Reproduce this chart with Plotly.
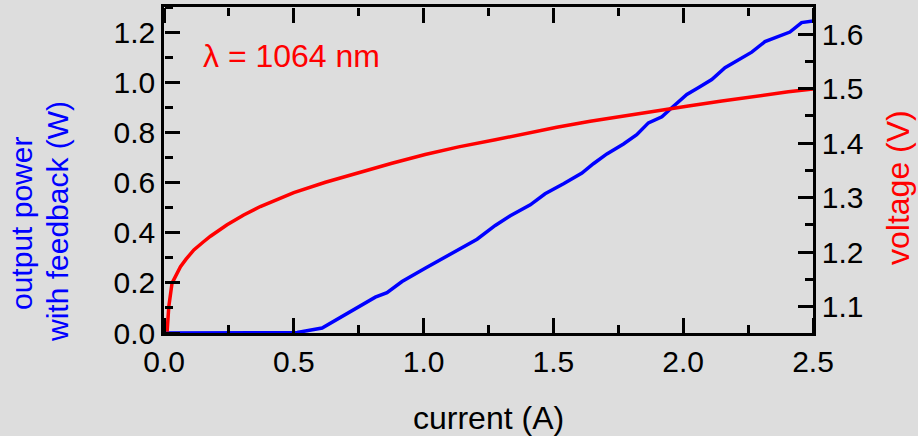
import plotly.graph_objects as go

# current (A) and voltage (V) -- red curve, right axis
current_v = [0.012, 0.0185, 0.031, 0.045, 0.0635, 0.085, 0.115, 0.15, 0.179, 0.243,
             0.307, 0.371, 0.5, 0.622, 0.75, 0.878, 1.006, 1.135, 1.276, 1.385,
             1.513, 1.642, 1.77, 1.911, 2.02, 2.149, 2.277, 2.405, 2.5]
voltage = [1.054, 1.100, 1.143, 1.156, 1.173, 1.187, 1.204, 1.218, 1.229, 1.250,
           1.268, 1.2835, 1.309, 1.328, 1.346, 1.363, 1.379, 1.393, 1.406, 1.417,
           1.429, 1.440, 1.450, 1.460, 1.468, 1.477, 1.486, 1.494, 1.499]

# current (A) and output power (W) -- blue curve, left axis
current_p = [0.0, 0.5, 0.513, 0.609, 0.75, 0.814, 0.859, 0.917, 1.006, 1.071,
             1.135, 1.206, 1.276, 1.334, 1.411, 1.468, 1.539, 1.61, 1.654, 1.706,
             1.77, 1.821, 1.866, 1.918, 1.956, 2.014, 2.058, 2.11, 2.161, 2.213,
             2.264, 2.315, 2.36, 2.411, 2.456, 2.5]
power = [0.0, 0.0, 0.002, 0.02, 0.105, 0.143, 0.161, 0.205, 0.258, 0.296,
         0.334, 0.374, 0.429, 0.4675, 0.511, 0.555, 0.595, 0.638, 0.675, 0.714,
         0.754, 0.791, 0.838, 0.862, 0.898, 0.951, 0.978, 1.011, 1.058, 1.091,
         1.12, 1.162, 1.18, 1.2, 1.238, 1.244]

X_RANGE = [0, 2.5]
P_RANGE = [0, 1.30]
V_RANGE = [1.0515, 1.6496]

FONT = "Liberation Sans, Arial, sans-serif"
BG = "#dddddd"
W, H = 918, 436
L, R, T, B = 164, 105, 7, 103
PW, PH = W - L - R, H - T - B


def px_x(px):
    return (px - L) / PW


def px_y(py):
    return (H - B - py) / PH


fig = go.Figure()
fig.add_trace(go.Scatter(x=current_p, y=power, mode="lines",
                         line=dict(color="#0000ff", width=3.5), xaxis="x", yaxis="y"))
fig.add_trace(go.Scatter(x=current_v, y=voltage, mode="lines",
                         line=dict(color="#ff0000", width=3.5), xaxis="x", yaxis="y2"))
# empty traces that only carry the tick-mark helper axes
fig.add_trace(go.Scatter(x=[], y=[], mode="lines", xaxis="x2", yaxis="y3", hoverinfo="skip"))
fig.add_trace(go.Scatter(x=[], y=[], mode="lines", xaxis="x3", yaxis="y4", hoverinfo="skip"))

main_axis = dict(
    showgrid=False, zeroline=False, showline=True, linecolor="black", linewidth=2.5,
    ticks="", tickfont=dict(family=FONT, size=30, color="black"), tickformat=".1f",
)
tick_axis = dict(
    showgrid=False, zeroline=False, showline=False, showticklabels=False,
    ticks="outside", ticklen=15, tickwidth=2.5, tickcolor="black", anchor="free",
)


def minor(d):
    return dict(dtick=d, ticks="outside", ticklen=8, tickwidth=2.5, tickcolor="black",
                showgrid=False)


fig.update_layout(
    template="none",
    width=W, height=H,
    margin=dict(l=L, r=R, t=T, b=B, pad=0),
    paper_bgcolor=BG, plot_bgcolor="rgba(0,0,0,0)",
    showlegend=False,
    font=dict(family=FONT, size=30, color="black"),
    xaxis=dict(range=X_RANGE, tick0=0, dtick=0.5, mirror=True, **main_axis),
    yaxis=dict(range=P_RANGE, tick0=0, dtick=0.2, mirror=False, **main_axis),
    yaxis2=dict(range=V_RANGE, tick0=1.0, dtick=0.1, overlaying="y", side="right",
                **main_axis),
    # tick marks pointing into the plot: bottom, top, left, right
    xaxis2=dict(range=X_RANGE, tick0=0, dtick=0.5, overlaying="x", side="top",
                position=0, minor=minor(0.25), **tick_axis),
    xaxis3=dict(range=X_RANGE, tick0=0, dtick=0.5, overlaying="x", side="bottom",
                position=1, minor=minor(0.25), **tick_axis),
    yaxis3=dict(range=P_RANGE, tick0=0, dtick=0.2, overlaying="y", side="right",
                position=0, minor=minor(0.1), **tick_axis),
    yaxis4=dict(range=V_RANGE, tick0=1.0, dtick=0.1, overlaying="y", side="left",
                position=1, minor=minor(0.05), **tick_axis),
    annotations=[
        dict(text="λ = 1064 nm", xref="paper", yref="paper", x=px_x(201), y=px_y(56),
             xanchor="left", yanchor="middle", showarrow=False,
             font=dict(family=FONT, size=32, color="#ff0000")),
        dict(text="current (A)", xref="paper", yref="paper", x=0.5, y=px_y(418),
             xanchor="center", yanchor="middle", showarrow=False,
             font=dict(family=FONT, size=32, color="black")),
        dict(text="output power", xref="paper", yref="paper", x=px_x(22), y=px_y(224),
             xanchor="center", yanchor="middle", showarrow=False, textangle=-90,
             font=dict(family=FONT, size=30, color="#0000ff")),
        dict(text="with feedback (W)", xref="paper", yref="paper", x=px_x(57), y=px_y(222),
             xanchor="center", yanchor="middle", showarrow=False, textangle=-90,
             font=dict(family=FONT, size=30, color="#0000ff")),
        dict(text="voltage (V)", xref="paper", yref="paper", x=px_x(898), y=px_y(188),
             xanchor="center", yanchor="middle", showarrow=False, textangle=-90,
             font=dict(family=FONT, size=32, color="#ff0000")),
    ],
)

fig.write_html("out.html")
